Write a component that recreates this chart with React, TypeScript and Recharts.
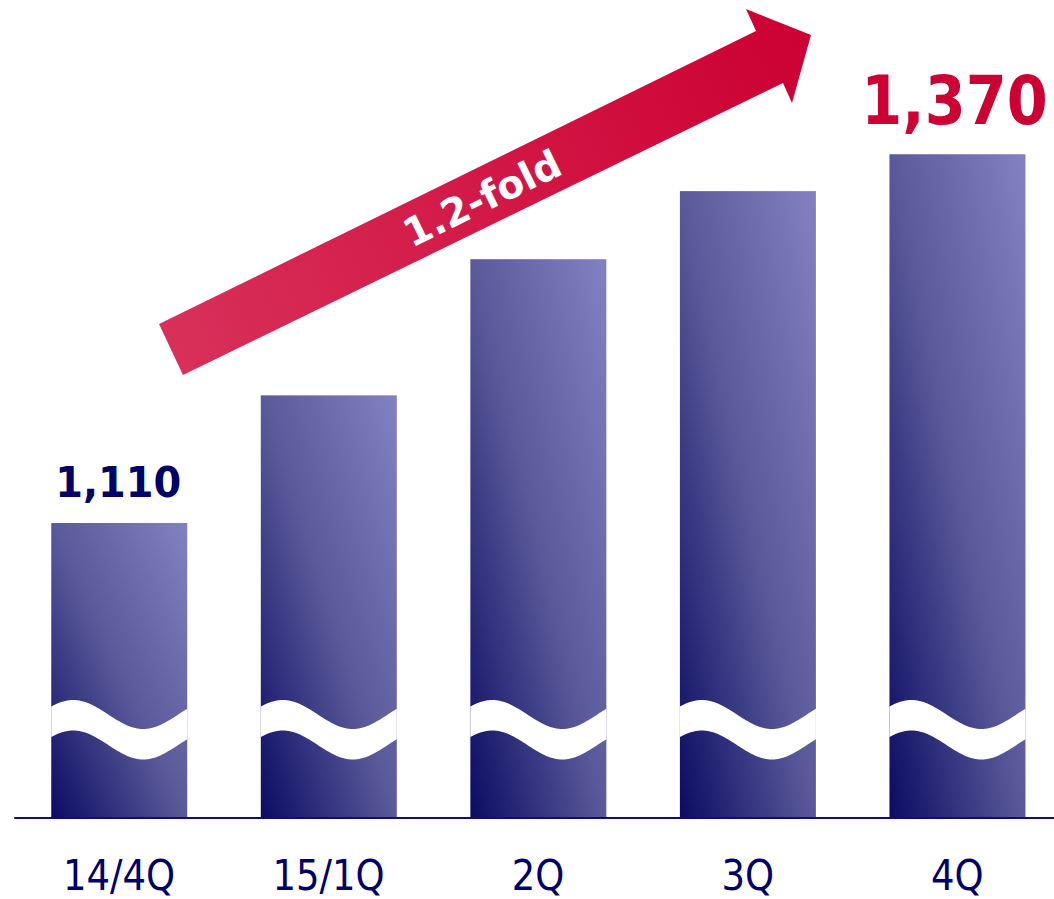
import { BarChart, Bar, XAxis, YAxis, LabelList } from 'recharts';

// quarterly figures, axis is broken near the base (see the wave cut-out)
const categories = ['14/4Q', '15/1Q', '2Q', '3Q', '4Q'];
const values = [1110, 1200, 1296, 1344, 1370];
const growthLabel = '1.2-fold';

const data = categories.map((quarter, i) => ({ quarter, value: values[i] }));

const NAVY = '#000066';
const RED = '#cc0033';

if (typeof document !== 'undefined') {
  document.body.style.margin = '0';
}

// bar with a white wavy "break" band near the bottom
const BrokenBar = (props: any) => {
  const { x, y, width, height } = props;
  if (!height || height <= 0) return null;
  const bottom = y + height;
  const mid = bottom - 103.5;
  const amp = 14.5;
  const gap = 30.5;
  const wave = (t: number) => mid - amp * Math.cos((2 * Math.PI * (t - 22)) / 140);
  const upper: string[] = [];
  const lower: string[] = [];
  for (let t = 0; t <= width; t += 2) {
    upper.push(`${x + t},${wave(t)}`);
    lower.unshift(`${x + t},${wave(t) + gap}`);
  }
  const d = `M${upper.join(' L')} L${lower.join(' L')} Z`;
  return (
    <g>
      <rect x={x} y={y} width={width} height={height} fill="url(#barGrad)" />
      <path d={d} fill="#ffffff" />
    </g>
  );
};

const ValueLabel = (props: any) => {
  const { x, y, width, value, index } = props;
  const last = values.length - 1;
  if (index !== 0 && index !== last) return null;
  const big = index === last;
  const cx = x + width / 2 - (big ? 3 : 1);
  const by = y - (big ? 30 : 26);
  return (
    <text
      transform={`translate(${cx},${by}) scale(${big ? 0.88 : 0.95},1)`}
      textAnchor="middle"
      fontFamily="'DejaVu Sans', sans-serif"
      fontWeight="bold"
      fontSize={big ? 67 : 42}
      fill={big ? RED : NAVY}
    >
      {Number(value).toLocaleString('en-US')}
    </text>
  );
};

const QuarterTick = (props: any) => {
  const { x, y, payload } = props;
  return (
    <text
      transform={`translate(${x},${y + 72}) scale(0.88,1)`}
      textAnchor="middle"
      fontFamily="'DejaVu Sans', sans-serif"
      fontSize={42}
      fill={NAVY}
    >
      {payload.value}
    </text>
  );
};

export default function App() {
  return (
    <div style={{ position: 'relative', width: 1054, height: 899, overflow: 'hidden', background: '#fff' }}>
      <BarChart
        width={1062}
        height={899}
        data={data}
        margin={{ top: 111.7, right: 0, left: 14.25, bottom: 0 }}
        barSize={136}
      >
        <defs>
          <linearGradient id="barGrad" x1="0" y1="1" x2="1" y2="0">
            <stop offset="0%" stopColor="#0b0b63" />
            <stop offset="50%" stopColor="#5a5a9a" />
            <stop offset="100%" stopColor="#8282c2" />
          </linearGradient>
        </defs>
        <XAxis
          dataKey="quarter"
          height={81}
          axisLine={{ stroke: '#10106a', strokeWidth: 2 }}
          tickLine={false}
          tickSize={0}
          tickMargin={0}
          tick={<QuarterTick />}
          interval={0}
        />
        <YAxis hide domain={[902, 1400]} allowDataOverflow />
        <Bar dataKey="value" shape={<BrokenBar />} isAnimationActive={false}>
          <LabelList dataKey="value" content={<ValueLabel />} />
        </Bar>
      </BarChart>

      {/* growth arrow annotation */}
      <svg
        width={1054}
        height={899}
        style={{ position: 'absolute', left: 0, top: 0, pointerEvents: 'none' }}
      >
        <defs>
          <linearGradient id="arrowGrad" gradientUnits="userSpaceOnUse" x1="170" y1="350" x2="811" y2="35">
            <stop offset="0%" stopColor="#d8305a" />
            <stop offset="100%" stopColor="#cc0033" />
          </linearGradient>
        </defs>
        <polygon
          points="159,324 756,31 746,9 811,35 792,103 783,83 183,375"
          fill="url(#arrowGrad)"
        />
        <text
          transform="translate(482,198) rotate(-26.1)"
          x={0}
          y={14}
          textAnchor="middle"
          fontFamily="'DejaVu Sans', sans-serif"
          fontWeight="bold"
          fontSize={39}
          fill="#ffffff"
        >
          {growthLabel}
        </text>
      </svg>
    </div>
  );
}
